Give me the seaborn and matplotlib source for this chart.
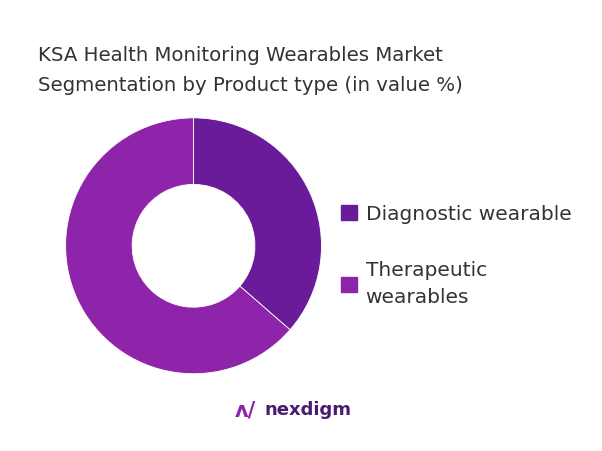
import matplotlib
matplotlib.use("Agg")
import matplotlib.pyplot as plt
import matplotlib.patches as mpatches
import seaborn as sns

# data
segments = ["Diagnostic wearable", "Therapeutic\nwearables"]
shares = [36.4, 63.6]
colors = ["#6a1b9a", "#8e24aa"]

sns.set_theme(style="white")
plt.rcParams['font.family'] = ['DejaVu Sans']

fig = plt.figure(figsize=(6.02, 4.51), dpi=100)
fig.patch.set_facecolor("white")

ax = fig.add_axes([0.109, 0.171, 0.425, 0.568])
ax.pie(shares, colors=colors, startangle=90, counterclock=False, radius=1,
       wedgeprops=dict(width=0.52, edgecolor="white", linewidth=0.6))
ax.set_xlim(-1, 1)
ax.set_ylim(-1, 1)
ax.set_aspect("equal")

# title
fig.text(0.063, 0.898, "KSA Health Monitoring Wearables Market\nSegmentation by Product type (in value %)",
         fontsize=14.2, color="#333333", va="top", ha="left", linespacing=1.75)

# legend
handles = [mpatches.Patch(color=c) for c in colors]
leg = fig.legend(handles, segments, loc="upper left", bbox_to_anchor=(0.537, 0.586),
                 frameon=False, fontsize=14.5, handlelength=0.75, handleheight=0.75,
                 labelspacing=1.85, handletextpad=0.45, labelcolor="#333333")
for t in leg.get_texts():
    t.set_linespacing(1.55)

# logo text
fig.text(0.44, 0.09, "nexdigm", fontsize=13, fontweight="bold", color="#4a1a6e",
         ha="left", va="center")
fig.text(0.39, 0.09, "ʌ/", fontsize=15, fontweight="bold", color="#8e24aa",
         ha="left", va="center")

fig.savefig("out.png", dpi=100, facecolor="white")
